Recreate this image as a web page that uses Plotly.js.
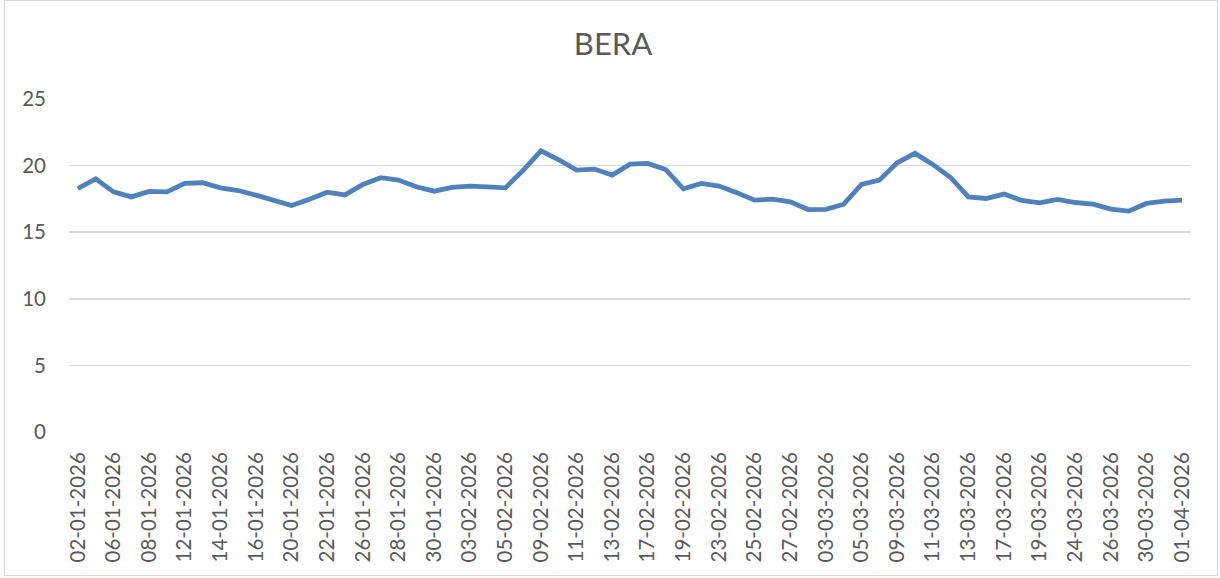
<!DOCTYPE html>
<html>
<head>
<meta charset="utf-8">
<script src="https://cdn.plot.ly/plotly-3.0.1.min.js"></script>
<style>
  html, body { margin: 0; padding: 0; background: #ffffff; }
  #wrap { position: relative; width: 1220px; height: 578px; }
  #chart { position: absolute; left: 0; top: 0; width: 1220px; height: 578px; }
  #frame { position: absolute; left: 4px; top: 0px; width: 1214px; height: 576px;
           box-sizing: border-box; border: 1px solid #d9d9d9; pointer-events: none; }
</style>
</head>
<body>
<div id="wrap">
  <div id="chart"></div>
  <div id="frame"></div>
</div>
<script>
const dates = [
  '02-01-2026','05-01-2026','06-01-2026','07-01-2026','08-01-2026','09-01-2026',
  '12-01-2026','13-01-2026','14-01-2026','15-01-2026','16-01-2026',
  '19-01-2026','20-01-2026','21-01-2026','22-01-2026','23-01-2026',
  '26-01-2026','27-01-2026','28-01-2026','29-01-2026','30-01-2026',
  '02-02-2026','03-02-2026','04-02-2026','05-02-2026','06-02-2026',
  '09-02-2026','10-02-2026','11-02-2026','12-02-2026','13-02-2026',
  '16-02-2026','17-02-2026','18-02-2026','19-02-2026','20-02-2026',
  '23-02-2026','24-02-2026','25-02-2026','26-02-2026','27-02-2026',
  '02-03-2026','03-03-2026','04-03-2026','05-03-2026','06-03-2026',
  '09-03-2026','10-03-2026','11-03-2026','12-03-2026','13-03-2026',
  '16-03-2026','17-03-2026','18-03-2026','19-03-2026','20-03-2026',
  '24-03-2026','25-03-2026','26-03-2026','27-03-2026',
  '30-03-2026','31-03-2026','01-04-2026'
];

const beraValues = [
  18.28, 19.00, 18.03, 17.65, 18.06, 18.03, 18.66, 18.71, 18.33, 18.13,
  17.78, 17.40, 17.00, 17.48, 18.00, 17.80, 18.58, 19.09, 18.91, 18.41,
  18.08, 18.36, 18.46, 18.41, 18.33, 19.64, 21.11, 20.44, 19.66, 19.74,
  19.29, 20.11, 20.16, 19.71, 18.26, 18.66, 18.46, 17.96, 17.41, 17.48,
  17.28, 16.70, 16.72, 17.10, 18.58, 18.91, 20.21, 20.92, 20.09, 19.11,
  17.65, 17.53, 17.86, 17.38, 17.20, 17.46, 17.23, 17.10, 16.73, 16.58,
  17.16, 17.33, 17.41
];

const tickLabels = [
  '02-01-2026','06-01-2026','08-01-2026','12-01-2026','14-01-2026','16-01-2026',
  '20-01-2026','22-01-2026','26-01-2026','28-01-2026','30-01-2026','03-02-2026',
  '05-02-2026','09-02-2026','11-02-2026','13-02-2026','17-02-2026','19-02-2026',
  '23-02-2026','25-02-2026','27-02-2026','03-03-2026','05-03-2026','09-03-2026',
  '11-03-2026','13-03-2026','17-03-2026','19-03-2026','24-03-2026','26-03-2026',
  '30-03-2026','01-04-2026'
];

const yTicks = [0, 5, 10, 15, 20, 25];

const textColor = '#595959';
const gridColor = '#d9d9d9';
const fontFam = 'Lato, "Open Sans", sans-serif';

const trace = {
  type: 'scatter',
  mode: 'lines',
  x: dates,
  y: beraValues,
  line: { color: '#4f81bd', width: 4.8, shape: 'linear' },
  hoverinfo: 'x+y',
  showlegend: false
};

const layout = {
  width: 1220,
  height: 578,
  paper_bgcolor: '#ffffff',
  plot_bgcolor: '#ffffff',
  margin: { l: 69, r: 29, t: 99, b: 146, pad: 0 },
  title: {
    text: 'BERA',
    font: { family: fontFam, size: 31, color: textColor },
    xref: 'container', x: 0.5025, xanchor: 'center',
    yref: 'container', y: 1 - 44.5 / 578, yanchor: 'middle'
  },
  xaxis: {
    type: 'category',
    categoryorder: 'array',
    categoryarray: dates,
    range: [-0.5, dates.length - 0.5],
    tickmode: 'array',
    tickvals: tickLabels,
    ticktext: tickLabels,
    tickangle: -90,
    tickfont: { family: fontFam, size: 20.5, color: textColor },
    ticks: '',
    ticklabelstandoff: 15,
    showgrid: false,
    showline: false,
    zeroline: false,
    fixedrange: true
  },
  yaxis: {
    range: [0, 25],
    tickmode: 'array',
    tickvals: yTicks,
    ticktext: yTicks.map(String),
    tickfont: { family: fontFam, size: 20.5, color: textColor },
    ticks: '',
    ticklabelstandoff: 22,
    showgrid: true,
    gridcolor: gridColor,
    gridwidth: 1.6,
    showline: false,
    zeroline: false,
    fixedrange: true
  }
};

Plotly.newPlot('chart', [trace], layout, { displayModeBar: false, staticPlot: true });
</script>
</body>
</html>
